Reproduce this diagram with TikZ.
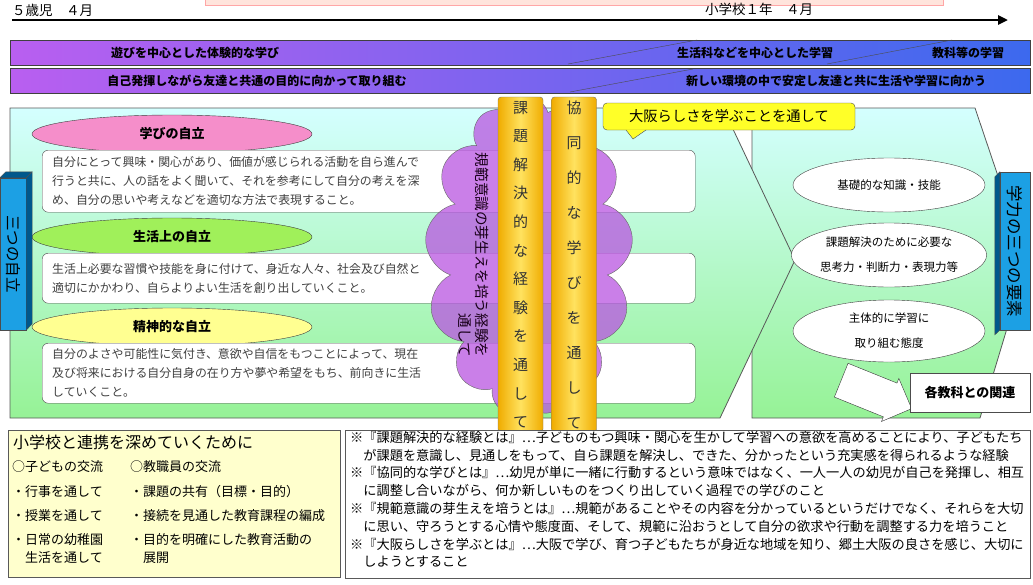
\documentclass[tikz,border=0pt]{standalone}
\usepackage{fontspec}
\setmainfont{Noto Sans CJK JP}
\usetikzlibrary{shapes.geometric, shapes.symbols, shapes.arrows, arrows.meta}

\definecolor{barL}{RGB}{185,95,240}
\definecolor{barR}{RGB}{60,105,238}
\definecolor{panelT}{RGB}{212,255,255}
\definecolor{panelB}{RGB}{150,242,150}
\definecolor{pinkE}{RGB}{245,142,202}
\definecolor{greenE}{RGB}{160,240,90}
\definecolor{yellowE}{RGB}{255,255,145}
\definecolor{cloudP}{RGB}{185,85,225}
\definecolor{goldD}{RGB}{240,172,0}
\definecolor{goldL}{RGB}{255,226,95}
\definecolor{callY}{RGB}{255,255,40}
\definecolor{blueF}{RGB}{28,160,228}
\definecolor{blueS}{RGB}{0,88,140}
\definecolor{noteY}{RGB}{255,255,205}
\definecolor{topPink}{RGB}{255,228,220}
\newcommand{\fsz}[2]{\fontsize{#1}{#2}\selectfont}

\begin{document}
\begin{tikzpicture}[
        x=1pt,
        y=-1pt,
        every node/.style={inner sep=0pt, font=\fsz{12}{14}},
        bartext/.style={font=\bfseries\fsz{12}{14}},
        pbar/.style={draw=black!75, line width=0.8pt, left color=barL, right color=barR,
            minimum width=1020, minimum height=25, anchor=north west},
        panel/.style={draw=black!65, line width=0.8pt, top color=panelT, bottom color=panelB},
        aimell/.style={ellipse, draw=black!75, minimum width=280, minimum height=38,
            font=\bfseries\fsz{13}{15}},
        descbox/.style={draw=black!70, fill=white, rounded corners=6pt, anchor=north west,
            text width=633, inner xsep=10pt, align=left, text=black!75, font=\fsz{11.9}{19}},
        cloudbg/.style={cloud, cloud puffs=13, cloud ignores aspect, draw=black!60,
            fill=cloudP, fill opacity=0.75, minimum width=208, minimum height=318},
        goldbar/.style={draw=black!55, rounded corners=3pt, left color=goldD, right color=goldD,
            middle color=goldL, minimum width=45, minimum height=335, align=center, text=black!80},
        callbox/.style={draw=black!70, fill=callY, rounded corners=4pt, minimum width=252,
            minimum height=27, font=\fsz{14.3}{16}},
        yousoell/.style={ellipse, draw=black!75, fill=white, minimum width=192, align=center,
            font=\fsz{11.5}{25}},
        bluebox/.style={draw=black!70, fill=blueF},
        blueside/.style={draw=black!70, fill=blueS},
        blockarrow/.style={single arrow, draw=black!80, fill=white, minimum height=76,
            inner ysep=18pt, single arrow head extend=5pt, single arrow head indent=0pt},
        kbox/.style={draw=black!70, fill=white, minimum width=120, minimum height=39,
            font=\bfseries\fsz{13}{15}},
        framebox/.style={draw=black!65, line width=1.2pt, anchor=north west}
    ]
    \useasboundingbox (0,0) rectangle (1033,584);

    % time line
    \draw[draw=red!35, fill=topPink] (205,-2) rectangle (943,5);
    \node[anchor=west, font=\fsz{13.5}{15}] (age5) at (12,10) {５歳児　４月};
    \node[anchor=west, font=\fsz{13.5}{15}] (grade1) at (705,9) {小学校１年　４月};
    \coordinate (t0) at (12,20);
    \coordinate (t1) at (1008,20);
    \draw[line width=2.6pt, -{Triangle[length=10pt, width=9pt]}] (t0) -- (t1);

    % purple bars
    \node[pbar] (bar1) at (10,40) {};
    \node[pbar] (bar2) at (10,68) {};
    \draw[black!70] (568,64) -- (697,40);
    \draw[black!70] (827,64) -- (952,40);
    \draw[black!70] (570,92) -- (693,69);
    \node[bartext] (asobi) at (195,52.5) {遊びを中心とした体験的な学び};
    \node[bartext] (seikatsuka) at (755,52.5) {生活科などを中心とした学習};
    \node[bartext] (kyouka) at (968,52.5) {教科等の学習};
    \node[bartext] (jikohakki) at (257,80.5) {自己発揮しながら友達と共通の目的に向かって取り組む};
    \node[bartext] (atarashii) at (836,80.5) {新しい環境の中で安定し友達と共に生活や学習に向かう};

    % panels
    \draw[panel] (752,108) -- (975,108) -- (1027,262) -- (980,418) -- (752,418) -- cycle;
    \draw[panel] (10,108) -- (723,108) -- (795,260) -- (720,418) -- (10,418) -- cycle;

    % three kinds of independence
    \node[aimell, fill=pinkE] (manabi) at (172,134) {学びの自立};
    \node[descbox, minimum height=62] (d1) at (42,150) {自分にとって興味・関心があり、価値が感じられる活動を自ら進んで\\行うと共に、人の話をよく聞いて、それを参考にして自分の考えを深\\め、自分の思いや考えなどを適切な方法で表現すること。};
    \node[aimell, fill=greenE] (seikatsu) at (172,237) {生活上の自立};
    \node[descbox, minimum height=50] (d2) at (42,253) {生活上必要な習慣や技能を身に付けて、身近な人々、社会及び自然と\\適切にかかわり、自らよりよい生活を創り出していくこと。};
    \node[aimell, fill=yellowE] (seishin) at (172,327) {精神的な自立};
    \node[descbox, minimum height=60] (d3) at (42,343) {自分のよさや可能性に気付き、意欲や自信をもつことによって、現在\\及び将来における自分自身の在り方や夢や希望をもち、前向きに生活\\していくこと。};

    % cloud
    \node[cloudbg] (cloud) at (529,257) {};
    \node[rotate=-90, align=right, text=black!80!violet, font=\fsz{14.6}{17}] (kihan) at (474,255)
        {規範意識の芽生えを培う経験を\\通して};

    % gold bars
    \node[goldbar, font=\fsz{15}{28.6}] (kadai) at (520.5,264.5)
        {課\\題\\解\\決\\的\\な\\経\\験\\を\\通\\し\\て};
    \node[goldbar, font=\fsz{15}{35}] (kyoudou) at (574,264.5)
        {協\\同\\的\\な\\学\\び\\を\\通\\し\\て};
    \node[callbox] (osaka) at (729,116.5) {大阪らしさを学ぶことを通して};
    \coordinate (tail) at (633,139);
    \fill[callY] (626,129.6) -- (tail) -- (646,129.6) -- cycle;
    \draw[black!70] (626,130) -- (tail) -- (646,130);

    % three elements of ability
    \node[yousoell, minimum height=54] (kiso) at (889,185) {基礎的な知識・技能};
    \node[yousoell, minimum height=64] (shikou) at (889,255) {課題解決のために必要な\\思考力・判断力・表現力等};
    \node[yousoell, minimum height=62] (taido) at (889,331) {主体的に学習に\\取り組む態度};
    \node[blockarrow, rotate=-22] (arrowK) at (868,391) {};
    \node[kbox] (kanren) at (970,392.5) {各教科との関連};

    \node[bluebox, minimum width=30, minimum height=158] (gakuryoku) at (1015,251) {};
    \draw[blueside] (gakuryoku.north west) -- ++(-5,5) -- ++(0,158) -- (gakuryoku.south west) -- cycle;
    \node[rotate=-90, font=\fsz{16.5}{18}] (gakuryokuT) at (gakuryoku) {学力の三つの要素};

    \node[bluebox, minimum width=26, minimum height=152] (jiritsu) at (13,254) {};
    \draw[blueside] (jiritsu.south east) -- (jiritsu.north east) -- ++(6,-6) -- ++(0,152) -- cycle;
    \draw[blueside] (jiritsu.north west) -- ++(6,-6) -- ++(26,0) -- (jiritsu.north east) -- cycle;
    \node[rotate=-90, font=\fsz{15.5}{17}] (jiritsuT) at (jiritsu) {三つの自立};

    % bottom boxes
    \node[framebox, fill=noteY, minimum width=332, minimum height=147] (renkei) at (8,430) {};
    \node[anchor=west, font=\fsz{16}{18}] (renkeiT) at (13,442) {小学校と連携を深めていくために};
    \node[anchor=north west, align=left, font=\fsz{13}{18}] (kodomo) at (12,460)
        {○子どもの交流\\[7pt]・行事を通して\\[6pt]・授業を通して\\[6pt]・日常の幼稚園\\　生活を通して};
    \node[anchor=north west, align=left, font=\fsz{13}{18}] (kyoushoku) at (130,460)
        {○教職員の交流\\[7pt]・課題の共有（目標・目的）\\[6pt]・接続を見通した教育課程の編成\\[6pt]・目的を明確にした教育活動の\\　展開};

    \node[framebox, fill=white, minimum width=685, minimum height=148] (notes) at (345,430) {};
    \node[anchor=north west, align=left, font=\fsz{13.2}{17.8}] (notesT) at (350,431)
        {※『課題解決的な経験とは』…子どものもつ興味・関心を生かして学習への意欲を高めることにより、子どもたち\\
         　が課題を意識し、見通しをもって、自ら課題を解決し、できた、分かったという充実感を得られるような経験\\
         ※『協同的な学びとは』…幼児が単に一緒に行動するという意味ではなく、一人一人の幼児が自己を発揮し、相互\\
         　に調整し合いながら、何か新しいものをつくり出していく過程での学びのこと\\
         ※『規範意識の芽生えを培うとは』…規範があることやその内容を分かっているというだけでなく、それらを大切\\
         　に思い、守ろうとする心情や態度面、そして、規範に沿おうとして自分の欲求や行動を調整する力を培うこと\\
         ※『大阪らしさを学ぶとは』…大阪で学び、育つ子どもたちが身近な地域を知り、郷土大阪の良さを感じ、大切に\\
         　しようとすること};
\end{tikzpicture}
\end{document}
